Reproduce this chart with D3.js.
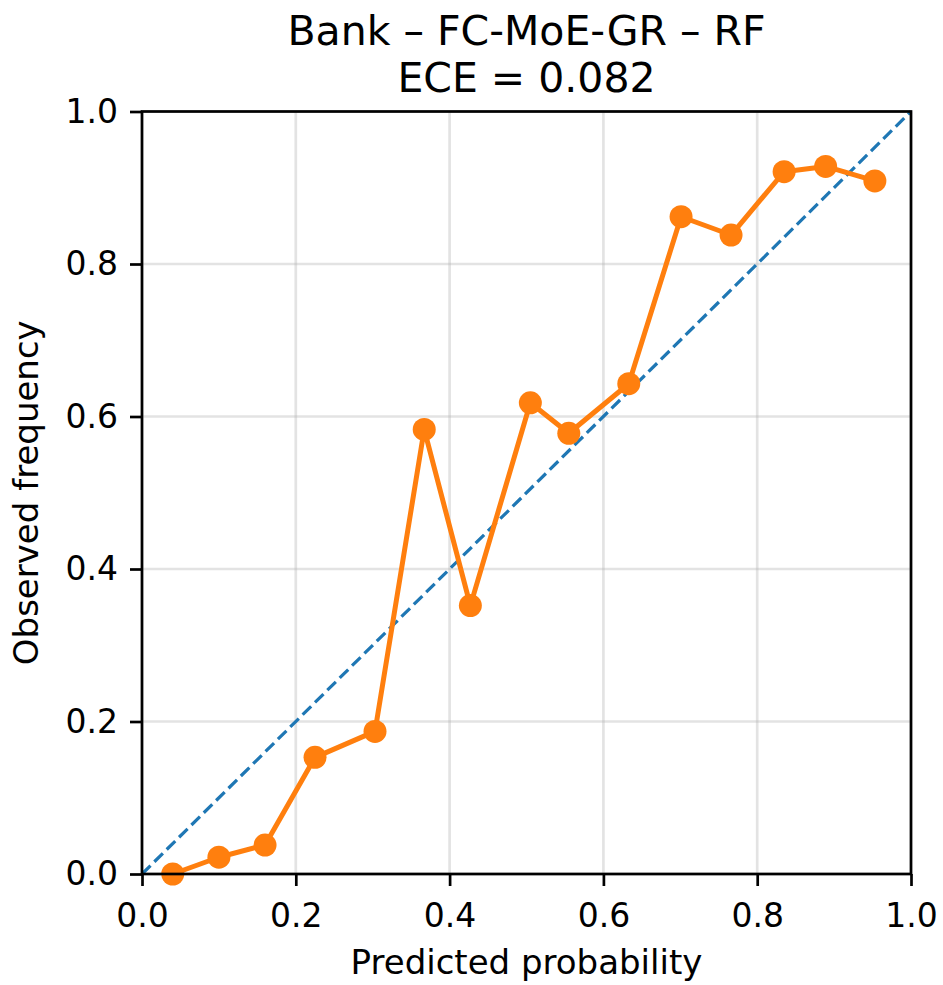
<!DOCTYPE html>
<html>
<head>
<meta charset="utf-8">
<script src="https://cdn.jsdelivr.net/npm/d3@7"></script>
<style>
  body { margin: 0; background: #fff; }
  text { font-family: "DejaVu Sans", sans-serif; fill: #000; }
</style>
</head>
<body>
<svg id="chart" width="943" height="985"></svg>
<script>
// calibration bins
var predicted = [0.040, 0.100, 0.160, 0.225, 0.303, 0.367, 0.427, 0.505, 0.555, 0.633, 0.701, 0.766, 0.835, 0.889, 0.953];
var observed  = [0.000, 0.022, 0.038, 0.153, 0.187, 0.583, 0.352, 0.618, 0.578, 0.643, 0.862, 0.838, 0.921, 0.928, 0.909];
var ticks = [0, 0.2, 0.4, 0.6, 0.8, 1.0];
var titleLines = ["Bank \u2013 FC-MoE-GR \u2013 RF", "ECE = 0.082"];

var svg = d3.select("#chart"),
    x0 = 142, x1 = 911, y0 = 874, y1 = 111.5;

var x = d3.scaleLinear().domain([0, 1]).range([x0, x1]),
    y = d3.scaleLinear().domain([0, 1]).range([y0, y1]);

// grid
var grid = svg.append("g").attr("stroke", "#b0b0b0").attr("stroke-opacity", 0.35).attr("stroke-width", 2.7);
ticks.forEach(function(t) {
  grid.append("line").attr("x1", x(t)).attr("x2", x(t)).attr("y1", y1).attr("y2", y0);
  grid.append("line").attr("y1", y(t)).attr("y2", y(t)).attr("x1", x0).attr("x2", x1);
});

// diagonal
svg.append("line")
  .attr("x1", x(0)).attr("y1", y(0)).attr("x2", x(1)).attr("y2", y(1))
  .attr("stroke", "#1f77b4").attr("stroke-width", 3.2)
  .attr("stroke-dasharray", "12,5.4");

// calibration curve
var pts = predicted.map(function(p, i) { return [p, observed[i]]; });
var line = d3.line().x(function(d) { return x(d[0]); }).y(function(d) { return y(d[1]); });
var plot = svg.append("g");
plot.append("path").datum(pts).attr("d", line)
  .attr("fill", "none").attr("stroke", "#ff7f0e").attr("stroke-width", 5)
  .attr("stroke-linejoin", "round");
plot.selectAll("circle").data(pts).enter().append("circle")
  .attr("cx", function(d) { return x(d[0]); })
  .attr("cy", function(d) { return y(d[1]); })
  .attr("r", 11.5).attr("fill", "#ff7f0e");

// axes
var fmt = d3.format(".1f");
var xAxis = svg.append("g").attr("transform", "translate(0," + y0 + ")")
  .call(d3.axisBottom(x).tickValues(ticks).tickFormat(fmt).tickSize(12).tickPadding(18));
var yAxis = svg.append("g").attr("transform", "translate(" + x0 + ",0)")
  .call(d3.axisLeft(y).tickValues(ticks).tickFormat(fmt).tickSize(12).tickPadding(12));
[xAxis, yAxis].forEach(function(a) {
  a.select(".domain").remove();
  a.selectAll("line").attr("stroke", "#000").attr("stroke-width", 2.7);
  a.selectAll("text").attr("font-size", 33).attr("font-family", "DejaVu Sans");
});

// frame
svg.append("rect").attr("x", x0).attr("y", y1)
  .attr("width", x1 - x0).attr("height", y0 - y1)
  .attr("fill", "none").attr("stroke", "#000").attr("stroke-width", 2.7);

// labels
svg.append("text").attr("x", (x0 + x1) / 2).attr("y", 974)
  .attr("text-anchor", "middle").attr("font-size", 34).text("Predicted probability");
svg.append("text").attr("transform", "translate(38," + (y0 + y1) / 2 + ") rotate(-90)")
  .attr("text-anchor", "middle").attr("font-size", 34).text("Observed frequency");
svg.selectAll(".title").data(titleLines).enter().append("text")
  .attr("class", "title")
  .attr("x", (x0 + x1) / 2)
  .attr("y", function(d, i) { return 45 + i * 46.5; })
  .attr("text-anchor", "middle").attr("font-size", 41)
  .text(function(d) { return d; });
</script>
</body>
</html>
